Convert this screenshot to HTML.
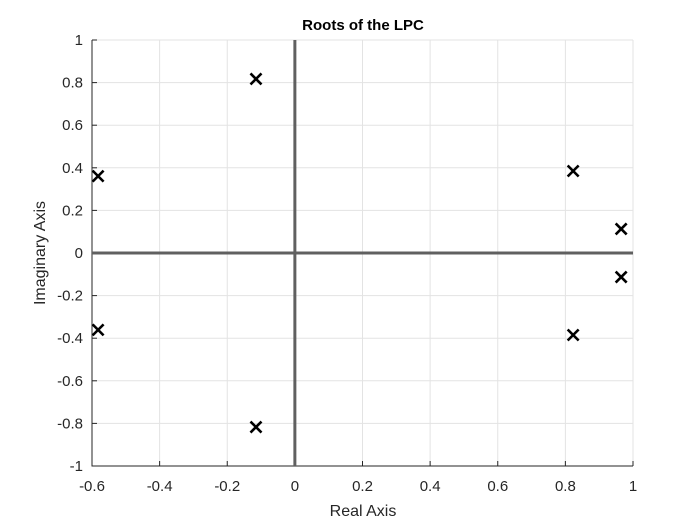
<!DOCTYPE html>
<html><head><meta charset="utf-8"><style>
body{margin:0;background:#fff;}
svg{display:block;font-family:"Liberation Sans",Arial,sans-serif;}
</style></head><body>
<svg id="chart" width="700" height="525" viewBox="0 0 700 525">
<rect width="700" height="525" fill="#fff"/>
<g id="grid"></g><g id="axes"></g><g id="marks"></g>
<text x="363" y="30" text-anchor="middle" font-size="15" font-weight="bold" fill="#000">Roots of the LPC</text>
<text x="363" y="516" text-anchor="middle" font-size="16" fill="#262626">Real Axis</text>
<text transform="translate(45,253) rotate(-90)" text-anchor="middle" font-size="16" fill="#262626">Imaginary Axis</text>
</svg>
<script>
const realParts=[-0.582,-0.582,-0.115,-0.115,0.823,0.823,0.965,0.965];
const imagParts=[0.361,-0.361,0.817,-0.817,0.385,-0.385,0.113,-0.113];
const xTicks=[-0.6,-0.4,-0.2,0,0.2,0.4,0.6,0.8,1];
const yTicks=[-1,-0.8,-0.6,-0.4,-0.2,0,0.2,0.4,0.6,0.8,1];
const xMin=-0.6,xMax=1,yMin=-1,yMax=1;
const L=92,R=633,T=40,B=466;
const sx=v=>L+(v-xMin)/(xMax-xMin)*(R-L);
const sy=v=>B-(v-yMin)/(yMax-yMin)*(B-T);
const NS='http://www.w3.org/2000/svg';
function mk(tag,attrs,parent){const e=document.createElementNS(NS,tag);for(const k in attrs)e.setAttribute(k,attrs[k]);parent.appendChild(e);return e;}
const grid=document.getElementById('grid'),axes=document.getElementById('axes'),marks=document.getElementById('marks');
const fmt=v=>String(Math.round(v*10)/10);
xTicks.forEach(v=>{
 const g=mk('line',{x1:sx(v),x2:sx(v),y1:T,y2:B,stroke:'#e3e3e3','stroke-width':1},grid);
 
 
 const tk=mk('line',{x1:sx(v),x2:sx(v),y1:B,y2:B-5,stroke:'#262626','stroke-width':1},axes);
 
 
 const t=mk('text',{x:sx(v),y:B+25,'text-anchor':'middle','font-size':15,fill:'#262626'},axes);
 t.textContent=fmt(v);
 
 
});
yTicks.forEach(v=>{
 const g=mk('line',{x1:L,x2:R,y1:sy(v),y2:sy(v),stroke:'#e3e3e3','stroke-width':1},grid);
 
 
 const tk=mk('line',{x1:L,x2:L+5,y1:sy(v),y2:sy(v),stroke:'#262626','stroke-width':1},axes);
 
 
 const t=mk('text',{x:L-9,y:sy(v)+5,'text-anchor':'end','font-size':15,fill:'#262626'},axes);
 t.textContent=fmt(v);
 
 
});
const bx=mk('path',{d:`M${L},${T}V${B}H${R}`,fill:'none',stroke:'#262626','stroke-width':1},axes);


const h=mk('line',{x1:L,x2:R,y1:sy(0),y2:sy(0),stroke:'#606060','stroke-width':3},axes);


const vl=mk('line',{x1:sx(0),x2:sx(0),y1:T,y2:B,stroke:'#606060','stroke-width':3},axes);


realParts.forEach((re,i)=>{
 const x=sx(re),y=sy(imagParts[i]),s=5.5;
 const p=mk('path',{d:`M${x-s},${y-s}L${x+s},${y+s}M${x-s},${y+s}L${x+s},${y-s}`,stroke:'#000','stroke-width':2.6,fill:'none'},marks);
 
 
});
</script>
</body></html>
